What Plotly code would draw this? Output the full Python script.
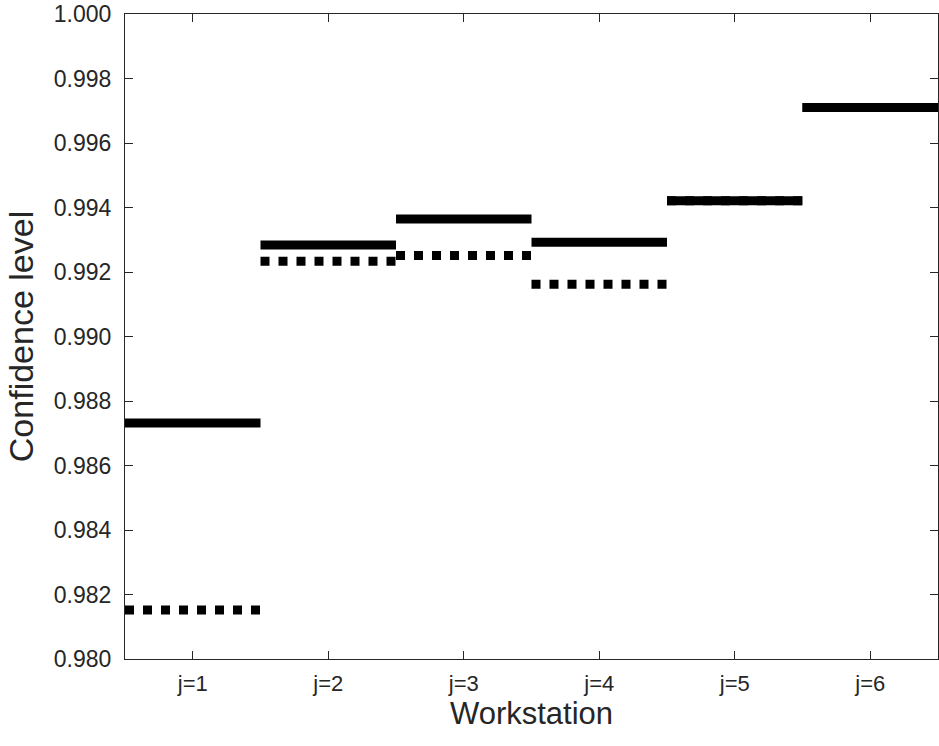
import plotly.graph_objects as go

workstations = ["j=1", "j=2", "j=3", "j=4", "j=5", "j=6"]
solid_vals = [0.98732, 0.99284, 0.99364, 0.99292, 0.99421, 0.99710]
dotted_vals = [0.98152, 0.99233, 0.99251, 0.99162, 0.99421, 0.99710]
y_ticks = [0.980, 0.982, 0.984, 0.986, 0.988, 0.990, 0.992, 0.994, 0.996, 0.998, 1.000]


def segments(vals):
    xs, ys = [], []
    for i, v in enumerate(vals):
        c = i + 1
        xs += [c - 0.5, c + 0.5, None]
        ys += [v, v, None]
    return xs, ys


fig = go.Figure()
xs, ys = segments(solid_vals)
fig.add_trace(go.Scatter(x=xs, y=ys, mode="lines", connectgaps=False,
                         line=dict(color="black", width=9), showlegend=False))
xs, ys = segments(dotted_vals)
fig.add_trace(go.Scatter(x=xs, y=ys, mode="lines", connectgaps=False,
                         line=dict(color="black", width=9, dash="9px,9px"), showlegend=False))

axis_color = "#262626"
fig.update_layout(
    width=939, height=746,
    margin=dict(l=125, r=1, t=14, b=87),
    plot_bgcolor="white", paper_bgcolor="white",
    font=dict(family="Liberation Sans, Arial, sans-serif", color=axis_color),
    xaxis=dict(
        range=[0.5, 6.5], tickmode="array",
        tickvals=list(range(1, len(workstations) + 1)), ticktext=workstations,
        ticks="inside", ticklen=8, tickcolor=axis_color, tickwidth=1,
        showline=True, linecolor=axis_color, linewidth=1, mirror="ticks",
        showgrid=False, zeroline=False,
        tickfont=dict(size=22, color=axis_color), ticklabelstandoff=5,
        ticklabeloverflow="allow",
        title=dict(text="Workstation", font=dict(size=31, color=axis_color), standoff=4),
    ),
    yaxis=dict(
        range=[0.980, 1.000], tickmode="array", tickvals=y_ticks,
        ticktext=[f"{v:.3f}" for v in y_ticks],
        ticks="inside", ticklen=8, tickcolor=axis_color, tickwidth=1,
        showline=True, linecolor=axis_color, linewidth=1, mirror="ticks",
        showgrid=False, zeroline=False,
        tickfont=dict(size=23, color=axis_color), ticklabelstandoff=8,
        ticklabeloverflow="allow",
        title=dict(text="Confidence level", font=dict(size=34, color=axis_color), standoff=9),
    ),
)

fig.write_html("out.html", config={"displayModeBar": False},
               post_script="document.body.style.margin='0';document.body.style.overflow='hidden';")
